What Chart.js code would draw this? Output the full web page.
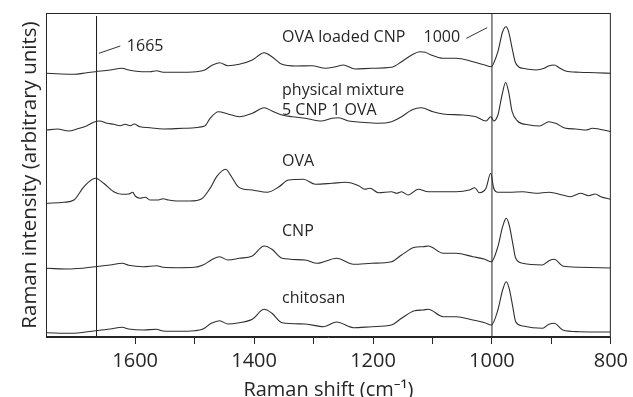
<!DOCTYPE html>
<html>
<head>
<meta charset="utf-8">
<script src="https://cdn.jsdelivr.net/npm/chart.js@4/dist/chart.umd.min.js"></script>
<style>
    html, body { margin: 0; padding: 0; background: #fff; }
    #wrap { width: 633px; height: 397px; }
</style>
</head>
<body>
<div id="wrap"><canvas id="chart" width="633" height="397"></canvas></div>
<script>
// wavenumber (cm-1) / intensity (arbitrary, stacked)
const ovaLoadedX = [1749, 1725, 1703, 1681, 1667, 1642, 1622, 1611, 1589, 1575, 1564, 1553, 1530, 1497, 1483,
    1472, 1458, 1444, 1425, 1403, 1383, 1370, 1353, 1330, 1303, 1280, 1263, 1250, 1230, 1202, 1169, 1152,
    1135, 1121, 1112, 1105, 1082, 1060, 1032, 1012, 1001, 996, 990, 982, 976, 972, 966, 961, 954, 948,
    926, 912, 904, 895, 887, 876, 853, 826, 800];
const ovaLoadedY = [263.7, 263, 262.7, 264.3, 265.3, 267, 268.7, 267, 265.3, 265.3, 266.3, 264.7, 264.7, 265.3, 267,
    271.3, 274.3, 271.3, 272.7, 277, 284.3, 280.3, 272.7, 271, 271.3, 268.7, 270.3, 272, 268, 268.7, 269.7, 275.3,
    282, 285.3, 284.7, 282.7, 278.7, 278.7, 275.3, 272, 270.3, 275.3, 285.3, 305.3, 310.3, 305.3, 288.7, 275.3, 269.7, 268.7,
    267, 268.7, 271.3, 272, 269.3, 266, 264.7, 264.3, 263.7];

const mixtureX = [1749, 1731, 1712, 1698, 1681, 1670, 1660, 1647, 1636, 1625, 1617, 1608, 1602, 1592, 1575,
    1553, 1519, 1483, 1474, 1460, 1444, 1425, 1403, 1383, 1370, 1353, 1336, 1314, 1286, 1269,
    1258, 1241, 1219, 1191, 1169, 1152, 1135, 1119, 1099, 1082, 1049, 1027, 1010, 1002, 997,
    990, 983, 977, 972, 966, 957, 937, 920, 904, 893, 876, 859, 842, 831, 800];
const mixtureY = [207, 208, 206, 208, 211.3, 214.7, 216, 213.7, 212.7, 211.3, 212.7, 211.3, 213, 210.3, 209.3,
    208, 208.7, 211, 218.7, 225.3, 223, 220.3, 223.7, 229.3, 226, 222, 220.3, 218.7, 216, 218.7,
    219.3, 216, 214.7, 213.7, 215.3, 220.3, 227, 229.3, 225.3, 223, 222, 220.3, 216, 220.3, 216,
    222, 242, 254.5, 245.3, 225.3, 216, 212, 211, 215.3, 213.7, 208.7, 208, 207, 208.7, 205.3];

const ovaX = [1749, 1720, 1703, 1686, 1667, 1653, 1636, 1622, 1611, 1604, 1600, 1592, 1583, 1575, 1561,
    1553, 1544, 1530, 1508, 1488, 1474, 1463, 1448, 1438, 1427, 1419, 1403, 1378, 1358, 1342,
    1317, 1297, 1269, 1247, 1224, 1214, 1205, 1191, 1169, 1160, 1152, 1141, 1124, 1107, 1088,
    1060, 1038, 1029, 1021, 1010, 1002, 997, 990, 971, 948, 926, 904, 881, 868, 851, 837, 826, 817, 800];
const ovaY = [133.7, 134.7, 137, 150.3, 158.7, 153.7, 145.3, 142.7, 143, 144.7, 141, 138.7, 139.7, 137, 137,
    138.3, 137, 136, 136, 138.3, 148.7, 160.3, 167.7, 160.3, 150.3, 148, 147, 144.7, 150.3, 157,
    157.7, 152.7, 153.7, 154.7, 151.3, 147.7, 148.7, 144.3, 145.3, 143.7, 145.3, 142, 147.7, 145.3, 145.3,
    145.3, 147, 149.3, 144.3, 148.7, 163.7, 148.7, 144.7, 144.7, 145.3, 143.7, 144.7, 142, 140.3, 143.7, 141.3, 143, 140.3, 137.7];

const cnpX = [1749, 1709, 1667, 1642, 1622, 1611, 1586, 1564, 1553, 1530, 1500, 1486, 1472, 1458, 1444,
    1425, 1403, 1383, 1370, 1353, 1314, 1294, 1261, 1233, 1202, 1169, 1152, 1130, 1116, 1107,
    1082, 1060, 1032, 1012, 1001, 990, 982, 976, 971, 965, 960, 948, 915, 904, 895, 881, 853, 800];
const cnpY = [68.7, 68, 70.3, 72, 73.7, 71.7, 70.3, 71.3, 69.7, 69.3, 69.7, 72, 77, 80.3, 77,
    78.7, 81, 91, 87.7, 78.7, 77, 73.7, 78.7, 72.7, 73.7, 75.3, 82, 89.7, 90.3, 91,
    83.7, 83.7, 80.3, 77.7, 75.3, 90.3, 110.3, 118.7, 112, 93.7, 78.7, 73.7, 72, 76.3, 77.7, 71, 69.7, 69];

const chitosanX = [1749, 1709, 1667, 1642, 1622, 1611, 1586, 1564, 1553, 1530, 1500, 1486, 1472, 1458, 1444,
    1425, 1403, 1383, 1370, 1353, 1314, 1283, 1261, 1233, 1202, 1169, 1152, 1130, 1116, 1107,
    1082, 1060, 1032, 1012, 1001, 990, 982, 976, 971, 965, 960, 948, 915, 904, 895, 881, 853, 800];
const chitosanY = [4.3, 3.7, 6.3, 8, 9.7, 8, 7, 7.7, 6, 5.7, 6.3, 8, 13.7, 16.3, 13,
    14.3, 17.7, 27.7, 23.7, 14.3, 13, 10.3, 15, 9.3, 10.3, 12, 18.7, 26.3, 27, 27.7,
    20.3, 20.3, 17, 14.3, 12, 27, 47, 55.3, 48.7, 30.3, 15.3, 11, 8.7, 12.7, 13.7, 7, 5.3, 5];

// marker lines
const marker1665X = [1665, 1665];
const marker1665Y = [0, 321];
const marker1000X = [1000, 1000];
const marker1000Y = [0, 324];
const leader1665X = [1661, 1625];
const leader1665Y = [283.7, 291];
const leader1000X = [1043, 1008];
const leader1000Y = [298.7, 309.3];

const xTickValues = [1600, 1400, 1200, 1000, 800];

// text labels: [text, wavenumber of left edge, baseline level]
const textLabels = [
    ['OVA loaded CNP', 1353, 295.3],
    ['physical mixture', 1353, 242],
    ['5 CNP 1 OVA', 1353, 222],
    ['OVA', 1353, 171],
    ['CNP', 1353, 101],
    ['chitosan', 1353, 33.7],
    ['1665', 1614, 286],
    ['1000', 1115, 295.3],
];

const FONT = "'Open Sans', 'Noto Sans', sans-serif";
const INK = '#262626';

function toPoints(xs, ys) {
    return xs.map((x, i) => ({ x: x, y: ys[i] }));
}

function trace(xs, ys) {
    return {
        data: toPoints(xs, ys),
        borderColor: '#2e2e2e',
        borderWidth: 1.1,
        pointRadius: 0,
        fill: false,
        cubicInterpolationMode: 'monotone',
    };
}

function rule(xs, ys, color, width) {
    return {
        data: toPoints(xs, ys),
        borderColor: color,
        borderWidth: width,
        pointRadius: 0,
        fill: false,
        tension: 0,
    };
}

const framePlugin = {
    id: 'frameAndText',
    afterDatasetsDraw(chart) {
        const { ctx, chartArea, scales } = chart;
        ctx.save();
        ctx.strokeStyle = INK;
        ctx.lineWidth = 1;
        ctx.strokeRect(chartArea.left + 0.5, chartArea.top + 0.5,
            chartArea.right - chartArea.left - 1, chartArea.bottom - chartArea.top - 1);
        ctx.fillStyle = INK;
        ctx.font = '16px ' + FONT;
        ctx.textAlign = 'left';
        ctx.textBaseline = 'alphabetic';
        textLabels.forEach(([t, wx, wy]) => {
            ctx.fillText(t, scales.x.getPixelForValue(wx), scales.y.getPixelForValue(wy));
        });
        ctx.restore();
    },
};

new Chart(document.getElementById('chart'), {
    type: 'line',
    data: {
        datasets: [
            trace(ovaLoadedX, ovaLoadedY),
            trace(mixtureX, mixtureY),
            trace(ovaX, ovaY),
            trace(cnpX, cnpY),
            trace(chitosanX, chitosanY),
            rule(marker1665X, marker1665Y, '#1a1a1a', 1),
            rule(marker1000X, marker1000Y, '#555', 1.3),
            rule(leader1665X, leader1665Y, '#333', 1),
            rule(leader1000X, leader1000Y, '#333', 1),
        ],
    },
    options: {
        responsive: false,
        animation: false,
        events: [],
        layout: { padding: { top: 13, right: 20, left: 0, bottom: 0 } },
        plugins: {
            legend: { display: false },
            tooltip: { enabled: false },
        },
        scales: {
            x: {
                type: 'linear',
                min: 800,
                max: 1750,
                reverse: true,
                border: { display: true, color: INK, width: 1 },
                grid: { drawOnChartArea: false, tickLength: 7, color: INK },
                ticks: {
                    stepSize: 100,
                    autoSkip: false,
                    maxRotation: 0,
                    color: INK,
                    padding: 5,
                    font: { family: FONT, size: 20 },
                    callback: (v) => (xTickValues.includes(v) ? String(v) : ''),
                },
                afterBuildTicks: (scale) => {
                    scale.ticks = scale.ticks.filter(t => t.value % 100 === 0);
                },
                afterFit: (scale) => { scale.height = 60; },
                title: {
                    display: true,
                    text: 'Raman shift (cm\u207B\u00B9)',
                    color: INK,
                    font: { family: FONT, size: 20, lineHeight: 0.65 },
                    padding: { top: 0, bottom: 0 },
                },
            },
            y: {
                min: 0,
                max: 324,
                border: { display: true, color: INK, width: 1 },
                grid: { display: false },
                ticks: { display: false },
                afterFit: (scale) => { scale.width = 46; },
                title: {
                    display: true,
                    text: 'Raman intensity (arbitrary units)',
                    color: INK,
                    font: { family: FONT, size: 20.5 },
                    padding: { top: 18, bottom: 0 },
                },
            },
        },
    },
    plugins: [framePlugin],
});
</script>
</body>
</html>
